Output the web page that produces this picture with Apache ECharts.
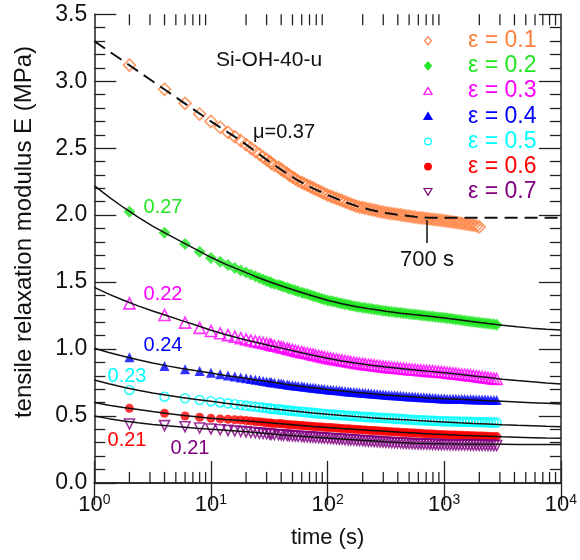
<!DOCTYPE html>
<html>
<head>
<meta charset="UTF-8">
<title>Si-OH-40-u relaxation</title>
<script src="https://cdn.jsdelivr.net/npm/echarts@6.0.0/dist/echarts.min.js"></script>
<style>
html, body { margin: 0; padding: 0; background: #fff; }
#chart { width: 580px; height: 560px; }
</style>
</head>
<body>
<div id="chart"></div>
<script>
// measured times (s)
var TIMES = [2, 4, 6, 8, 10, 12, 14, 16, 18, 20, 22, 24, 26, 28, 30,
  32, 33, 35, 38, 40, 42, 45, 47, 50, 53,
  56, 60, 63, 67, 71, 75, 79, 84, 89, 94,
  100, 106, 112, 119, 126, 133, 141, 150, 158, 168,
  178, 188, 200, 211, 224, 237, 251, 266, 282, 299,
  316, 335, 355, 376, 398, 422, 447, 473, 501, 531,
  562, 596, 631, 668, 708, 750, 794, 841, 891, 944,
  1000, 1059, 1122, 1189, 1259, 1334, 1413, 1496, 1585, 1679,
  1778, 1884, 1995, 2113, 2239, 2371, 2512, 2661, 2818];

// relaxation modulus E (MPa), one list per strain
var E_01 = [3.12, 2.94, 2.835, 2.755, 2.70, 2.656, 2.618, 2.586, 2.557, 2.527, 2.501, 2.477, 2.454, 2.434, 2.415,
  2.400, 2.386, 2.371, 2.357, 2.342, 2.328, 2.313, 2.299, 2.284, 2.270,
  2.255, 2.245, 2.234, 2.224, 2.213, 2.203, 2.192, 2.182, 2.171, 2.161,
  2.150, 2.142, 2.133, 2.125, 2.116, 2.108, 2.099, 2.091, 2.082, 2.074,
  2.065, 2.060, 2.056, 2.051, 2.046, 2.042, 2.037, 2.032, 2.027, 2.023,
  2.018, 2.015, 2.011, 2.008, 2.005, 2.002, 1.998, 1.995, 1.992, 1.988,
  1.985, 1.982, 1.980, 1.977, 1.974, 1.972, 1.969, 1.966, 1.963, 1.961,
  1.958, 1.955, 1.951, 1.948, 1.945, 1.942, 1.938, 1.935, 1.932, 1.928,
  1.925, 1.919, 1.913];
var E_02 = [2.025, 1.869, 1.784, 1.727, 1.68, 1.651, 1.627, 1.606, 1.587, 1.571, 1.556, 1.543, 1.530, 1.519, 1.508,
  1.500, 1.493, 1.486, 1.479, 1.472, 1.465, 1.458, 1.451, 1.444, 1.437,
  1.430, 1.423, 1.417, 1.410, 1.403, 1.396, 1.390, 1.383, 1.376, 1.370,
  1.363, 1.358, 1.354, 1.349, 1.344, 1.340, 1.335, 1.330, 1.325, 1.321,
  1.316, 1.313, 1.309, 1.306, 1.303, 1.300, 1.296, 1.293, 1.290, 1.286,
  1.283, 1.280, 1.278, 1.275, 1.273, 1.270, 1.267, 1.265, 1.262, 1.260,
  1.257, 1.255, 1.252, 1.250, 1.247, 1.245, 1.243, 1.240, 1.238, 1.235,
  1.233, 1.230, 1.227, 1.224, 1.221, 1.218, 1.215, 1.212, 1.209, 1.206,
  1.203, 1.200, 1.198, 1.195, 1.193, 1.190, 1.187, 1.185, 1.182];
var E_03 = [1.341, 1.254, 1.197, 1.158, 1.135, 1.118, 1.104, 1.092, 1.081, 1.072, 1.064, 1.057, 1.051, 1.045, 1.039,
  1.035, 1.030, 1.024, 1.019, 1.014, 1.009, 1.003, 0.998, 0.993, 0.987,
  0.982, 0.977, 0.972, 0.968, 0.963, 0.958, 0.953, 0.948, 0.944, 0.939,
  0.934, 0.930, 0.926, 0.922, 0.918, 0.915, 0.911, 0.907, 0.903, 0.899,
  0.895, 0.892, 0.889, 0.886, 0.883, 0.881, 0.878, 0.875, 0.872, 0.869,
  0.866, 0.864, 0.862, 0.860, 0.858, 0.856, 0.853, 0.851, 0.849, 0.847,
  0.845, 0.843, 0.841, 0.839, 0.837, 0.836, 0.834, 0.832, 0.830, 0.828,
  0.826, 0.823, 0.821, 0.818, 0.816, 0.813, 0.810, 0.808, 0.805, 0.803,
  0.800, 0.797, 0.794, 0.791, 0.788, 0.785, 0.782, 0.779, 0.776];
var E_04 = [0.938, 0.873, 0.848, 0.836, 0.823, 0.812, 0.803, 0.795, 0.788, 0.782, 0.776, 0.771, 0.766, 0.761, 0.757,
  0.754, 0.751, 0.748, 0.745, 0.742, 0.739, 0.735, 0.732, 0.729, 0.726,
  0.723, 0.721, 0.718, 0.716, 0.713, 0.711, 0.708, 0.706, 0.703, 0.701,
  0.698, 0.696, 0.694, 0.692, 0.690, 0.688, 0.685, 0.683, 0.681, 0.679,
  0.677, 0.675, 0.673, 0.671, 0.669, 0.667, 0.666, 0.664, 0.662, 0.660,
  0.658, 0.657, 0.655, 0.654, 0.652, 0.651, 0.649, 0.648, 0.646, 0.645,
  0.643, 0.642, 0.640, 0.639, 0.638, 0.637, 0.635, 0.634, 0.633, 0.631,
  0.630, 0.629, 0.629, 0.628, 0.628, 0.627, 0.626, 0.626, 0.625, 0.625,
  0.624, 0.623, 0.623, 0.622, 0.622, 0.621, 0.620, 0.620, 0.619];
var E_05 = [0.694, 0.644, 0.632, 0.619, 0.610, 0.601, 0.594, 0.587, 0.582, 0.577, 0.573, 0.569, 0.565, 0.562, 0.559,
  0.556, 0.554, 0.551, 0.549, 0.547, 0.545, 0.542, 0.540, 0.538, 0.535,
  0.533, 0.531, 0.529, 0.527, 0.525, 0.523, 0.521, 0.519, 0.517, 0.515,
  0.513, 0.511, 0.510, 0.508, 0.507, 0.505, 0.503, 0.502, 0.500, 0.499,
  0.497, 0.496, 0.494, 0.493, 0.492, 0.491, 0.489, 0.488, 0.487, 0.485,
  0.484, 0.483, 0.481, 0.480, 0.478, 0.477, 0.476, 0.474, 0.473, 0.471,
  0.470, 0.469, 0.468, 0.467, 0.466, 0.465, 0.464, 0.463, 0.462, 0.461,
  0.460, 0.460, 0.459, 0.459, 0.458, 0.458, 0.457, 0.457, 0.456, 0.456,
  0.455, 0.454, 0.454, 0.453, 0.453, 0.452, 0.451, 0.451, 0.450];
var E_06 = [0.557, 0.520, 0.500, 0.490, 0.482, 0.478, 0.475, 0.472, 0.470, 0.466, 0.462, 0.459, 0.456, 0.453, 0.450,
  0.448, 0.446, 0.444, 0.443, 0.441, 0.439, 0.437, 0.435, 0.434, 0.432,
  0.430, 0.428, 0.427, 0.425, 0.424, 0.422, 0.420, 0.419, 0.417, 0.416,
  0.414, 0.413, 0.411, 0.410, 0.408, 0.407, 0.405, 0.404, 0.402, 0.401,
  0.399, 0.398, 0.396, 0.395, 0.393, 0.392, 0.391, 0.389, 0.388, 0.386,
  0.385, 0.384, 0.382, 0.381, 0.380, 0.378, 0.377, 0.376, 0.375, 0.373,
  0.372, 0.371, 0.370, 0.368, 0.367, 0.366, 0.365, 0.364, 0.362, 0.361,
  0.360, 0.359, 0.358, 0.358, 0.357, 0.356, 0.355, 0.354, 0.354, 0.353,
  0.352, 0.351, 0.350, 0.350, 0.349, 0.348, 0.347, 0.347, 0.346];
var E_07 = [0.440, 0.428, 0.419, 0.410, 0.403, 0.397, 0.392, 0.388, 0.385, 0.381, 0.378, 0.375, 0.372, 0.370, 0.367,
  0.365, 0.363, 0.362, 0.360, 0.358, 0.357, 0.355, 0.353, 0.351, 0.350,
  0.348, 0.347, 0.345, 0.344, 0.342, 0.341, 0.339, 0.338, 0.336, 0.335,
  0.333, 0.332, 0.330, 0.329, 0.327, 0.326, 0.324, 0.323, 0.321, 0.320,
  0.318, 0.317, 0.315, 0.314, 0.312, 0.311, 0.309, 0.308, 0.306, 0.305,
  0.303, 0.302, 0.301, 0.300, 0.299, 0.298, 0.296, 0.295, 0.294, 0.293,
  0.292, 0.291, 0.291, 0.290, 0.289, 0.289, 0.288, 0.287, 0.286, 0.286,
  0.285, 0.285, 0.284, 0.284, 0.284, 0.284, 0.283, 0.283, 0.283, 0.282,
  0.282, 0.282, 0.281, 0.281, 0.281, 0.280, 0.280, 0.279, 0.279];

// fitted curves (black lines)
var FIT_T = [1, 1.33, 1.78, 2.37, 3.16, 4.22, 5.62, 7.5, 10, 13.3, 17.8, 23.7, 31.6, 42.2, 56.2, 75, 100,
  133, 178, 237, 316, 422, 562, 750, 1000, 1334, 1778, 2371, 3162, 4217, 5623, 7499, 10000];
var FIT_01 = [3.30, 3.225, 3.15, 3.075, 3.00, 2.925, 2.85, 2.775, 2.70, 2.63, 2.56, 2.48, 2.40, 2.326, 2.257, 2.200, 2.150,
  2.106, 2.067, 2.038, 2.016, 2.000, 1.988, 1.98, 1.98, 1.98, 1.98, 1.98, 1.98, 1.98, 1.98, 1.98, 1.98];
var FIT_02 = [2.220, 2.136, 2.057, 1.985, 1.918, 1.858, 1.800, 1.742, 1.685, 1.634, 1.589, 1.544, 1.502, 1.465, 1.430, 1.396, 1.364,
  1.338, 1.316, 1.298, 1.282, 1.268, 1.256, 1.244, 1.232, 1.218, 1.204, 1.190, 1.177, 1.166, 1.156, 1.148, 1.142];
var FIT_03 = [1.460, 1.410, 1.364, 1.322, 1.284, 1.248, 1.212, 1.177, 1.140, 1.108, 1.078, 1.052, 1.027, 1.003, 0.978, 0.954, 0.931,
  0.911, 0.893, 0.878, 0.865, 0.854, 0.843, 0.833, 0.823, 0.811, 0.799, 0.787, 0.775, 0.764, 0.755, 0.746, 0.738];
var FIT_04 = [1.005, 0.974, 0.946, 0.920, 0.896, 0.874, 0.855, 0.837, 0.820, 0.803, 0.787, 0.771, 0.755, 0.739, 0.724, 0.710, 0.697,
  0.686, 0.676, 0.666, 0.657, 0.649, 0.642, 0.635, 0.629, 0.624, 0.619, 0.614, 0.609, 0.604, 0.599, 0.594, 0.589];
var FIT_05 = [0.768, 0.740, 0.715, 0.692, 0.672, 0.654, 0.638, 0.623, 0.609, 0.595, 0.582, 0.569, 0.556, 0.544, 0.533, 0.522, 0.512,
  0.503, 0.495, 0.487, 0.480, 0.473, 0.467, 0.461, 0.455, 0.449, 0.444, 0.439, 0.434, 0.430, 0.427, 0.423, 0.420];
var FIT_06 = [0.600, 0.580, 0.563, 0.548, 0.533, 0.519, 0.506, 0.494, 0.483, 0.474, 0.466, 0.458, 0.449, 0.440, 0.431, 0.422, 0.414,
  0.406, 0.399, 0.392, 0.385, 0.378, 0.372, 0.366, 0.361, 0.356, 0.352, 0.348, 0.344, 0.341, 0.338, 0.335, 0.333];
var FIT_07 = [0.500, 0.480, 0.463, 0.449, 0.437, 0.427, 0.418, 0.409, 0.401, 0.393, 0.385, 0.376, 0.367, 0.358, 0.350, 0.342, 0.335,
  0.328, 0.321, 0.314, 0.307, 0.301, 0.297, 0.294, 0.292, 0.2905, 0.2895, 0.2885, 0.288, 0.2875, 0.287, 0.2865, 0.286];

var STRAINS = ['0.1', '0.2', '0.3', '0.4', '0.5', '0.6', '0.7'];
var MU = ['0.37', '0.27', '0.22', '0.24', '0.23', '0.21', '0.21'];

var POINTS = [E_01, E_02, E_03, E_04, E_05, E_06, E_07];
var FITS = [FIT_01, FIT_02, FIT_03, FIT_04, FIT_05, FIT_06, FIT_07];

var COLORS = ['#FF7F3F', '#22E622', '#FF00FF', '#0000FF', '#00FFFF', '#FF0000', '#800080'];
var SYMBOLS = ['diamond', 'diamond', 'triangle', 'triangle', 'circle', 'circle', 'triangle'];
var SIZES = [12, 12, 11, 10, 9, 9, 10];
var FILLED = [false, true, false, true, false, true, false];
var ROTATE = [0, 0, 0, 0, 0, 0, 180];
var FONT = 'Liberation Sans, Arial, sans-serif';
var AXIS = '#222';

// minor ticks of the log axis: 2..9 in every decade
var MINOR_X = [];
for (var d = 1; d <= 1000; d *= 10) {
  for (var k = 2; k <= 9; k++) MINOR_X.push(k * d);
}

var series = [];
POINTS.forEach(function (vals, i) {
  series.push({
    name: 'ε = ' + STRAINS[i],
    type: 'scatter',
    symbol: SYMBOLS[i],
    symbolSize: SIZES[i],
    symbolRotate: ROTATE[i],
    itemStyle: FILLED[i]
      ? { color: COLORS[i] }
      : { color: 'rgba(0,0,0,0)', borderColor: COLORS[i], borderWidth: 1.6 },
    data: vals.map(function (v, j) { return [TIMES[j], v]; }),
    z: 2
  });
});
FITS.forEach(function (vals, i) {
  series.push({
    type: 'line',
    showSymbol: false,
    silent: true,
    lineStyle: i === 0
      ? { color: '#111', width: 2, type: [13, 7] }
      : { color: '#111', width: 1.5 },
    data: vals.map(function (v, j) { return [FIT_T[j], v]; }),
    z: 3
  });
});
series.push({
  type: 'custom',
  silent: true,
  z: 5,
  renderItem: function (params, api) {
    var x = api.coord([api.value(0), 1])[0];
    var cs = params.coordSys;
    var st = { stroke: AXIS, lineWidth: 1.3 };
    return {
      type: 'group',
      children: [
        { type: 'line', shape: { x1: x, y1: cs.y + cs.height, x2: x, y2: cs.y + cs.height - 11 }, style: st },
        { type: 'line', shape: { x1: x, y1: cs.y, x2: x, y2: cs.y + 11 }, style: st }
      ]
    };
  },
  data: MINOR_X.map(function (v) { return [v, 1]; })
});

// legend and annotations
var graphic = [];
STRAINS.forEach(function (s, i) {
  var cx = 428, cy = 40.7 + 25.17 * i, r = 4;
  var fill = FILLED[i] ? COLORS[i] : 'rgba(0,0,0,0)';
  var st = { fill: fill, stroke: COLORS[i], lineWidth: 1.2 };
  var shape;
  if (SYMBOLS[i] === 'diamond') {
    shape = { type: 'polygon', shape: { points: [[cx, cy - r], [cx + r * 0.85, cy], [cx, cy + r], [cx - r * 0.85, cy]] }, style: st };
  } else if (SYMBOLS[i] === 'circle') {
    shape = { type: 'circle', shape: { cx: cx, cy: cy, r: 3.3 }, style: st };
  } else if (ROTATE[i] === 180) {
    shape = { type: 'polygon', shape: { points: [[cx - r, cy - r * 0.8], [cx + r, cy - r * 0.8], [cx, cy + r * 0.9]] }, style: st };
  } else {
    shape = { type: 'polygon', shape: { points: [[cx, cy - r * 0.9], [cx + r, cy + r * 0.8], [cx - r, cy + r * 0.8]] }, style: st };
  }
  graphic.push(shape);
  graphic.push({
    type: 'text', x: 468, y: cy, z: 10,
    style: { text: 'ε = ' + s, fill: COLORS[i], font: '23px ' + FONT, verticalAlign: 'middle' }
  });
});

var NOTES = [
  { text: 'Si-OH-40-u', x: 269, y: 60, color: '#111', size: 21 },
  { text: 'μ=' + MU[0], x: 284, y: 132, color: '#111', size: 20 },
  { text: MU[1], x: 163, y: 207, color: COLORS[1], size: 20 },
  { text: MU[2], x: 163, y: 294, color: COLORS[2], size: 20 },
  { text: MU[3], x: 163, y: 345, color: COLORS[3], size: 20 },
  { text: MU[4], x: 127, y: 376, color: COLORS[4], size: 20 },
  { text: MU[5], x: 127, y: 440, color: COLORS[5], size: 20 },
  { text: MU[6], x: 190, y: 448, color: COLORS[6], size: 20 },
  { text: '700 s', x: 427, y: 260, color: '#111', size: 22 }
];
NOTES.forEach(function (n) {
  graphic.push({
    type: 'text', x: n.x, y: n.y, z: 10,
    style: { text: n.text, fill: n.color, font: n.size + 'px ' + FONT, align: 'center', verticalAlign: 'middle' }
  });
});
graphic.push({
  type: 'line', z: 10,
  shape: { x1: 427, y1: 220, x2: 427, y2: 243 },
  style: { stroke: '#111', lineWidth: 1.5 }
});
// y axis title, a little above the plot centre as in the source figure
graphic.push({
  type: 'text', x: 24, y: 232, rotation: Math.PI / 2, z: 10,
  style: { text: 'tensile relaxation modulus E (MPa)', fill: '#111', font: '24px ' + FONT, align: 'center', verticalAlign: 'middle' }
});

function yAxisDef(pos, showLabel) {
  return {
    type: 'value', position: pos, min: 0, max: 3.5, interval: 0.5,
    axisLine: { show: true, lineStyle: { color: AXIS, width: 1.5 } },
    axisTick: { show: true, inside: true, length: 22, lineStyle: { color: AXIS, width: 1.3 } },
    minorTick: { show: true, splitNumber: 5, length: 11, lineStyle: { color: AXIS, width: 1.3 } },
    splitLine: { show: false },
    axisLabel: {
      show: showLabel, margin: 7, color: '#111', fontFamily: FONT, fontSize: 23,
      formatter: function (v) { return v.toFixed(1); }
    }
  };
}
function xAxisDef(pos, showLabel) {
  return {
    type: 'log', logBase: 10, position: pos, min: 1, max: 10000,
    axisLine: { show: true, lineStyle: { color: AXIS, width: 1.5 } },
    axisTick: { show: true, inside: true, length: 22, lineStyle: { color: AXIS, width: 1.3 } },
    splitLine: { show: false },
    axisLabel: {
      show: showLabel, margin: 10, color: '#111',
      formatter: function (v) { return '{b|10}{s|' + Math.round(Math.log10(v)) + '}'; },
      rich: {
        b: { fontFamily: FONT, fontSize: 22, color: '#111' },
        s: { fontFamily: FONT, fontSize: 14, color: '#111', padding: [0, 0, 11, 0] }
      }
    },
    name: showLabel ? 'time (s)' : '',
    nameLocation: 'middle', nameGap: 44,
    nameTextStyle: { color: '#111', fontFamily: FONT, fontSize: 22 }
  };
}

var chart = echarts.init(document.getElementById('chart'));
chart.setOption({
  animation: false,
  backgroundColor: '#fff',
  grid: { left: 94.3, right: 18.3, top: 14.3, bottom: 77.1 },
  xAxis: [xAxisDef('bottom', true), xAxisDef('top', false)],
  yAxis: [yAxisDef('left', true), yAxisDef('right', false)],
  series: series,
  graphic: graphic
});
</script>
</body>
</html>
